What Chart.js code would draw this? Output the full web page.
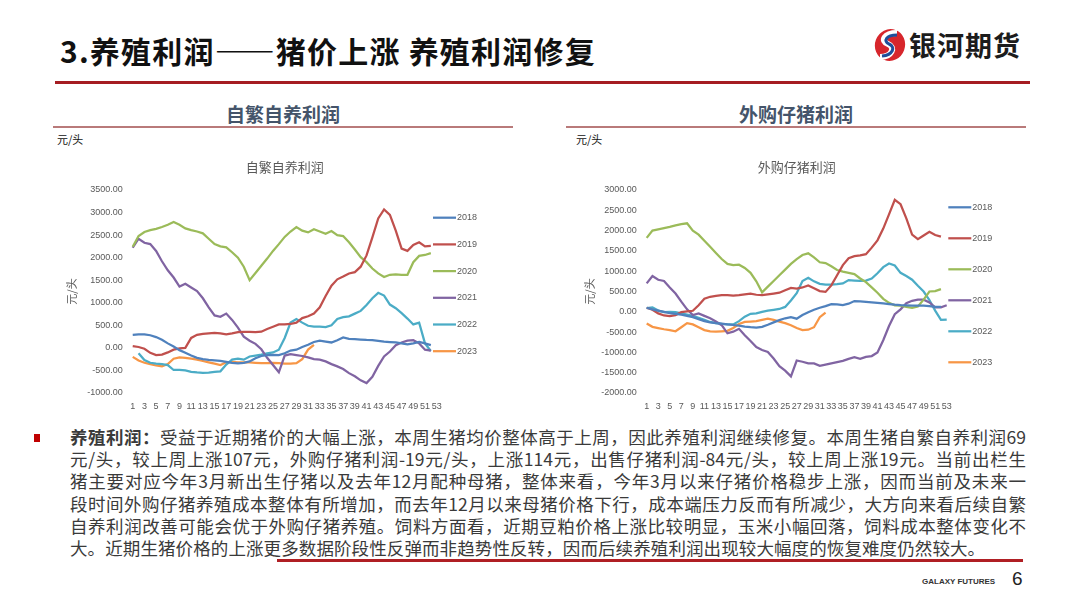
<!DOCTYPE html>
<html lang="zh">
<head>
<meta charset="UTF-8" />
<title>养殖利润</title>
<script src="https://cdn.jsdelivr.net/npm/chart.js"></script>
<style>
  html, body { margin: 0; padding: 0; background: #fff; }
  body { width: 1080px; height: 608px; position: relative; overflow: hidden;
         font-family: "Noto Sans CJK SC", "Liberation Sans", sans-serif; }
  .abs { position: absolute; }
  #title { left: 60px; top: 28px; font-size: 30px; font-weight: 700; color: #111;
           letter-spacing: 1.2px; line-height: 44px; white-space: nowrap; }
  #redline { left: 55px; top: 81px; width: 975px; height: 3px; background: #A51D22; }
  #logoText { left: 909px; top: 26px; font-size: 27px; font-weight: 700; color: #1c1c1c; line-height: 38px; letter-spacing: 1px; }
  .head { font-size: 19px; font-weight: 700; color: #44546A; text-align: center; line-height: 26px; }
  .headline { height: 2px; background: #B97A7A; }
  .unit { font-size: 11px; color: #111; }
  canvas { position: absolute; }
  #para { left: 70px; top: 426px; width: 956px; color: #3a3a3a; font-size: 17.5px; line-height: 22.2px; }
  #para .ln { white-space: nowrap; }
  #para .j { text-align: justify; text-align-last: justify; white-space: normal; }
  #bullet { left: 34px; top: 434px; width: 6px; height: 8px; background: #C00000; }
  #under { left: 277px; top: 559px; width: 746px; height: 3px; background: #B01F24; }
  #foot { left: 922px; top: 577px; font-size: 8px; font-weight: 700; color: #333; font-family: "Liberation Sans Narrow", "Liberation Sans", sans-serif; }
  #page { left: 1012px; top: 568px; font-size: 19px; color: #222; font-family: "Liberation Sans", sans-serif; }
</style>
</head>
<body>
<div id="title" class="abs">3.养殖利润——猪价上涨 养殖利润修复</div>
<svg class="abs" style="left:872px;top:27px" width="36" height="36" viewBox="0 0 36 36">
  <ellipse cx="18" cy="18" rx="15" ry="16" fill="#D7262C" transform="rotate(20 18 18)"/>
  <path d="M25 6 C12 6 8 14 16 17 C24 20 20 30 8 30" stroke="#fff" stroke-width="6" fill="none"/>
  <path d="M25 8 C14 8 11 14 17 17 C24 20 21 28 10 29" stroke="#1F4E9A" stroke-width="3" fill="none"/>
</svg>
<div id="logoText" class="abs">银河期货</div>
<div id="redline" class="abs"></div>

<div class="abs head" style="left:53px;top:101px;width:460px">自繁自养利润</div>
<div class="abs headline" style="left:53px;top:126px;width:460px"></div>
<div class="abs unit" style="left:57px;top:131px">元/头</div>

<div class="abs head" style="left:566px;top:101px;width:460px">外购仔猪利润</div>
<div class="abs headline" style="left:566px;top:126px;width:460px"></div>
<div class="abs unit" style="left:576px;top:131px">元/头</div>

<canvas id="selfChart" width="470" height="270" style="left:60px;top:150px;width:470px;height:270px"></canvas>
<canvas id="buyChart" width="470" height="270" style="left:580px;top:150px;width:470px;height:270px"></canvas>

<div id="bullet" class="abs"></div>
<div id="para" class="abs">
  <div class="ln j"><b>养殖利润：</b>受益于近期猪价的大幅上涨，本周生猪均价整体高于上周，因此养殖利润继续修复。本周生猪自繁自养利润69</div>
  <div class="ln j">元/头，较上周上涨107元，外购仔猪利润-19元/头，上涨114元，出售仔猪利润-84元/头，较上周上涨19元。当前出栏生</div>
  <div class="ln j">猪主要对应今年3月新出生仔猪以及去年12月配种母猪，整体来看，今年3月以来仔猪价格稳步上涨，因而当前及未来一</div>
  <div class="ln j">段时间外购仔猪养殖成本整体有所增加，而去年12月以来母猪价格下行，成本端压力反而有所减少，大方向来看后续自繁</div>
  <div class="ln j">自养利润改善可能会优于外购仔猪养殖。饲料方面看，近期豆粕价格上涨比较明显，玉米小幅回落，饲料成本整体变化不</div>
  <div class="ln" style="letter-spacing:0.1px">大。近期生猪价格的上涨更多数据阶段性反弹而非趋势性反转，因而后续养殖利润出现较大幅度的恢复难度仍然较大。</div>
</div>
<div id="under" class="abs"></div>
<div id="foot" class="abs">GALAXY FUTURES</div>
<div id="page" class="abs">6</div>

<script>
  // week categories
  const weeks = ['1','2','3','4','5','6','7','8','9','10','11','12','13','14','15','16','17','18','19','20',
    '21','22','23','24','25','26','27','28','29','30','31','32','33','34','35','36','37','38','39','40',
    '41','42','43','44','45','46','47','48','49','50','51','52','53'];
  const years = ['2018', '2019', '2020', '2021', '2022', '2023'];
  const colors = ['#4F81BD', '#C0504D', '#9BBB59', '#8064A2', '#4BACC6', '#F79646'];

  // 自繁自养利润 (元/头)
  const self2018 = [290,300,300,280,240,180,100,30,-50,-110,-170,-220,-250,-265,-275,-290,-310,-330,-345,-330,
    -300,-230,-180,-160,-155,-160,-120,-60,-40,20,70,130,160,140,120,170,230,200,195,185,
    175,170,155,140,130,120,100,80,100,130,100,60];
  const self2019 = [40,20,-20,-110,-160,-150,-100,-40,-10,0,220,290,310,320,330,320,300,320,350,355,
    355,350,360,420,470,520,520,530,560,660,700,760,900,1150,1380,1520,1580,1650,1680,1800,
    2050,2450,2870,3070,2950,2600,2200,2150,2280,2340,2250,2260];
  const self2020 = [2240,2480,2570,2610,2640,2680,2730,2790,2730,2650,2610,2580,2540,2420,2300,2250,2230,2120,2000,1800,
    1500,1660,1820,1980,2150,2300,2460,2580,2680,2600,2560,2630,2580,2530,2590,2500,2480,2340,2180,2010,
    1900,1760,1650,1570,1620,1630,1620,1620,1900,2040,2060,2100];
  const self2021 = [2220,2420,2330,2300,2150,1920,1720,1560,1360,1420,1340,1260,1100,900,720,690,760,620,450,250,
    160,90,-30,-220,-380,-540,-170,-140,-160,-180,-210,-250,-260,-300,-360,-410,-470,-560,-630,-720,
    -780,-640,-400,-190,-80,60,120,160,170,100,-40,-60];
  const self2022 = [null,-120,-270,-330,-350,-360,-380,-490,-490,-500,-530,-545,-555,-550,-530,-520,-370,-260,-240,-260,
    -190,-170,-150,-120,-100,-40,220,560,640,560,490,470,470,460,500,640,680,700,760,820,
    950,1100,1220,1160,960,880,770,650,520,560,100,-70];
  const self2023 = [-200,-280,-330,-360,-390,-410,-360,-240,-210,-220,-240,-260,-290,-320,-350,-380,-320,-310,-320,-320,
    -320,-330,-340,-340,-330,-340,-350,-350,-340,-250,-38,69];

  // 外购仔猪利润 (元/头)
  const buy2018 = [100,60,30,0,-30,-50,-70,-100,-130,-180,-230,-260,-280,-290,-310,-325,-340,-365,-380,-390,
    -370,-320,-260,-205,-160,-130,-170,-80,-10,50,100,140,190,180,165,200,265,255,245,235,
    220,205,190,175,165,160,155,150,150,140,120,120];
  const buy2019 = [100,50,-40,-90,-105,-80,-10,10,25,160,320,370,390,410,410,400,410,430,450,420,
    410,430,450,470,530,590,570,600,650,580,510,490,650,900,1150,1320,1370,1390,1420,1580,
    1760,2050,2400,2760,2650,2300,1900,1790,1880,1970,1890,1850];
  const buy2020 = [1820,2000,2030,2060,2090,2130,2160,2180,2000,1900,1750,1600,1450,1300,1180,1150,1160,1080,960,750,
    480,620,760,900,1040,1180,1300,1400,1440,1340,1220,1200,1120,1030,990,960,930,820,730,600,
    470,320,220,160,150,120,100,130,300,500,510,560];
  const buy2021 = [700,880,790,760,600,450,250,60,-80,-40,-100,-160,-240,-330,-530,-490,-420,-580,-720,-870,
    -940,-990,-1150,-1340,-1450,-1590,-1200,-1230,-1270,-1270,-1330,-1300,-1270,-1240,-1210,-1160,-1120,-1160,-1110,-1090,
    -1000,-700,-350,-60,60,210,270,300,300,230,110,110,160];
  const buy2022 = [90,110,30,-10,0,-10,-40,-70,-100,-150,-200,-250,-280,-300,-310,-310,-230,-120,-50,-40,
    0,30,50,70,120,280,460,760,840,750,690,670,670,680,700,780,770,760,770,820,
    950,1100,1190,1140,960,880,790,640,500,290,30,-200,-190];
  const buy2023 = [-290,-370,-400,-430,-450,-480,-380,-280,-310,-380,-450,-480,-490,-480,-470,-400,-300,-250,-240,-230,
    -200,-170,-200,-240,-280,-330,-400,-450,-440,-380,-133,-19];

  const tickFont = { family: '"Liberation Sans", sans-serif', size: 9 };
  const tickColor = '#595959';

  // draws chart title, rotated axis title and the right-hand legend
  const decor = {
    id: 'decor',
    afterDraw(chart, args, o) {
      const ctx = chart.ctx, a = chart.chartArea;
      ctx.save();
      ctx.fillStyle = '#595959';
      ctx.textAlign = 'center';
      ctx.textBaseline = 'middle';
      ctx.font = '13px "Noto Sans CJK SC"';
      ctx.fillText(o.title, (a.left + a.right) / 2, 17);

      ctx.save();
      ctx.translate(o.yTitleX, (a.top + a.bottom) / 2);
      ctx.rotate(-Math.PI / 2);
      ctx.font = '11px "Noto Sans CJK SC"';
      ctx.fillText('元/头', 0, 0);
      ctx.restore();

      ctx.textAlign = 'left';
      ctx.font = '9px "Liberation Sans"';
      chart.data.datasets.forEach((ds, i) => {
        const y = o.legendY + i * o.legendStep;
        ctx.strokeStyle = ds.borderColor;
        ctx.lineWidth = 2.25;
        ctx.beginPath();
        ctx.moveTo(o.legendX, y);
        ctx.lineTo(o.legendX + 23, y);
        ctx.stroke();
        ctx.fillStyle = '#595959';
        ctx.fillText(ds.label, o.legendX + 24, y);
      });
      ctx.restore();
    }
  };

  function makeChart(id, series, yMin, yMax, opts) {
    const datasets = series.map((data, i) => ({
      label: years[i],
      data: data,
      borderColor: colors[i],
      backgroundColor: colors[i],
      borderWidth: 2.25,
      pointRadius: 0,
      tension: 0,
      fill: false,
    }));
    return new Chart(document.getElementById(id), {
      type: 'line',
      data: { labels: weeks, datasets: datasets },
      options: {
        responsive: false,
        animation: false,
        layout: { padding: { top: 40, right: opts.padRight, left: 0, bottom: 0 } },
        plugins: {
          legend: { display: false },
          tooltip: { enabled: false },
          decor: opts,
        },
        scales: {
          x: {
            offset: true,
            grid: { display: false, drawTicks: false },
            border: { display: false },
            ticks: {
              autoSkip: false, maxRotation: 0, padding: 8,
              font: tickFont, color: tickColor,
              callback: (v, i) => (i % 2 === 0 ? weeks[i] : ''),
            },
            afterFit: (s) => { s.height = 27; },
          },
          y: {
            min: yMin, max: yMax,
            grid: { display: false, drawTicks: false },
            border: { display: false },
            ticks: {
              stepSize: 500, padding: 7,
              font: tickFont, color: tickColor,
              callback: (v) => v.toFixed(2),
            },
            afterFit: (s) => { s.width = opts.axisWidth; },
          },
        },
      },
      plugins: [decor],
    });
  }

  makeChart('selfChart', [self2018, self2019, self2020, self2021, self2022, self2023], -1000, 3500, {
    title: '自繁自养利润', yTitleX: 12, axisWidth: 69.8, padRight: 90.4,
    legendX: 373, legendY: 67.7, legendStep: 26.7,
  });
  makeChart('buyChart', [buy2018, buy2019, buy2020, buy2021, buy2022, buy2023], -2000, 3000, {
    title: '外购仔猪利润', yTitleX: 10, axisWidth: 63.8, padRight: 100.4,
    legendX: 368.3, legendY: 57.3, legendStep: 31,
  });
</script>
</body>
</html>
